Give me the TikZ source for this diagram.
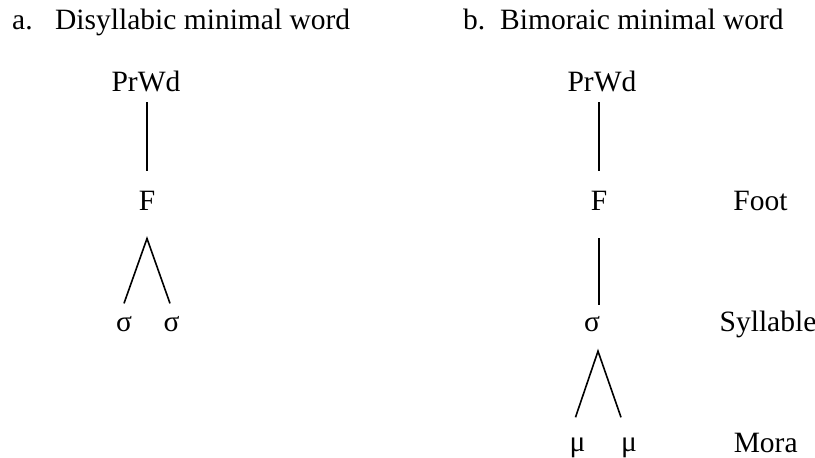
\documentclass[tikz,border=0pt]{standalone}
\usepackage{fontspec}
\setmainfont{Liberation Serif}
\tikzset{
  lbl/.style = {inner sep = 0pt, anchor = base, font = \fontsize{29.5}{35}\selectfont},
  head/.style = {lbl, anchor = base west},
  branch/.style = {line width = 1.6pt}
}
\begin{document}
\begin{tikzpicture}[x = 1pt, y = -1pt, draw = black]
\useasboundingbox (0,0) rectangle (815,458);
\node[head] (ha) at (12,29.3) {a.};
\node[head] (hat) at (55,29.3) {Disyllabic minimal word};
\node[head] (hb) at (463,29.3) {b.};
\node[head] (hbt) at (500,29.3) {Bimoraic minimal word};
% a. disyllabic
\node[lbl] (pwa) at (146,91) {PrWd};
\node[lbl] (fa) at (147,210.7) {F};
\node[lbl] (sa1) at (124,331.7) {σ};
\node[lbl] (sa2) at (171.5,331.7) {σ};
\draw[branch, shorten <= 10.7pt, shorten >= 20.5pt] (pwa.south -| fa.north) -- (fa.north);
\coordinate (ta) at ([yshift = -27.6pt]fa.south);
\draw[branch] ([yshift = 13pt]sa1.north) -- (ta) -- ([xshift = -1.5pt, yshift = 13pt]sa2.north);
% b. bimoraic
\node[lbl] (pwb) at (602,91) {PrWd};
\node[lbl] (fb) at (599,210.7) {F};
\node[lbl] (sb) at (592,331.7) {σ};
\node[lbl] (mb1) at (577.5,451) {μ};
\node[lbl] (mb2) at (629,451) {μ};
\draw[branch, shorten <= 10.7pt, shorten >= 20.5pt] (pwb.south -| fb.north) -- (fb.north);
\coordinate (sbt) at (fb |- sb.north);
\draw[branch, shorten <= 27.3pt, shorten >= 11.8pt] (fb.south) -- (sbt);
\coordinate (tb) at (fb |- sb.south);
\draw[branch] ([xshift = -2pt, yshift = 20pt]mb1.north) -- ([xshift = -1pt, yshift = -19pt]tb) -- ([xshift = -8pt, yshift = 20pt]mb2.north);
% tiers
\node[lbl] (foot) at (760.5,210) {Foot};
\node[lbl] (syl) at (768,331) {Syllable};
\node[lbl] (mora) at (765.7,452) {Mora};
\end{tikzpicture}
\end{document}
